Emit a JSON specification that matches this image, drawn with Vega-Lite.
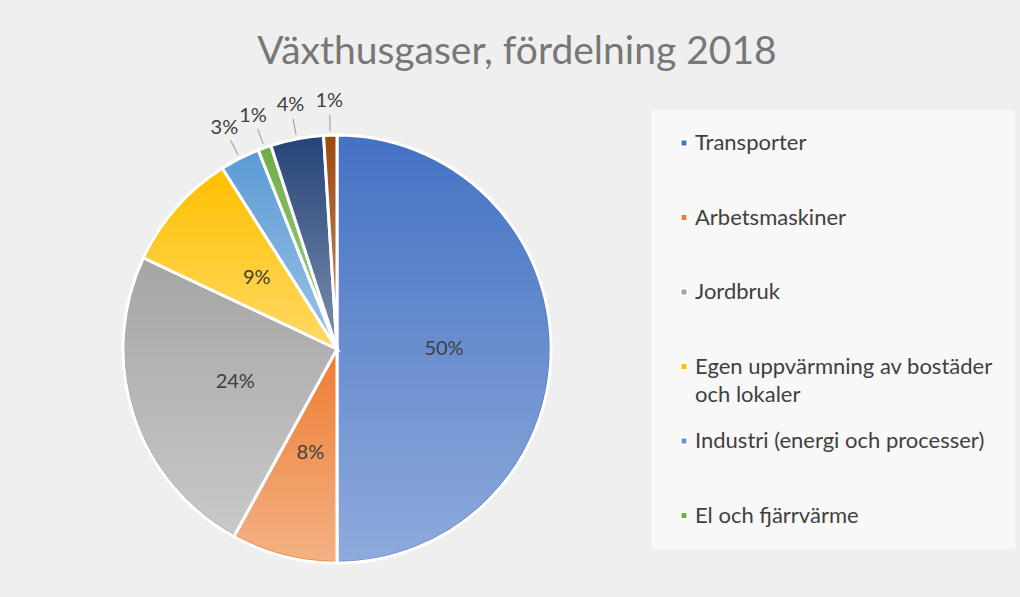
{
  "$schema": "https://vega.github.io/schema/vega-lite/v6.json",
  "width": 430,
  "height": 430,
  "autosize": {"type": "none"},
  "padding": {"left": 122, "top": 134, "right": 468, "bottom": 33},
  "background": "#efefef",
  "config": {"style": {"guide-label": {"lineHeight": 28}}},
  "title": {
    "text": "Växthusgaser, fördelning 2018",
    "fontSize": 39,
    "font": "Lato",
    "fontWeight": "normal",
    "color": "#777777",
    "anchor": "middle",
    "frame": "group",
    "dx": 180,
    "offset": 19
  },
  "data": {
    "values": [
      {"sektor": "Transporter", "andel": 0.50, "nr": 1},
      {"sektor": "Arbetsmaskiner", "andel": 0.08, "nr": 2},
      {"sektor": "Jordbruk", "andel": 0.24, "nr": 3},
      {"sektor": "Egen uppvärmning av bostäder och lokaler", "andel": 0.09, "nr": 4},
      {"sektor": "Industri (energi och processer)", "andel": 0.03, "nr": 5},
      {"sektor": "El och fjärrvärme", "andel": 0.01, "nr": 6},
      {"sektor": "Produktanvändning (inkl. lösningsmedel)", "andel": 0.04, "nr": 7},
      {"sektor": "Avfall (inkl. deponier)", "andel": 0.01, "nr": 8}
    ]
  },
  "encoding": {
    "theta": {"field": "andel", "type": "quantitative", "stack": true},
    "order": {"field": "nr", "type": "quantitative", "sort": "ascending"},
    "detail": {"field": "sektor", "type": "nominal"}
  },
  "layer": [
    {
      "mark": {"type": "arc", "outerRadius": 214, "stroke": "#ffffff", "strokeWidth": 3},
      "encoding": {
        "color": {
          "field": "sektor",
          "type": "nominal",
          "sort": null,
          "scale": {
            "domain": ["Transporter", "Arbetsmaskiner", "Jordbruk", "Egen uppvärmning av bostäder och lokaler", "Industri (energi och processer)", "El och fjärrvärme", "Produktanvändning (inkl. lösningsmedel)", "Avfall (inkl. deponier)"],
            "range": ["#4472c4", "#ed7d31", "#a5a5a5", "#ffc000", "#5b9bd5", "#70ad47", "#264478", "#9e480e"]
          },
          "legend": {
            "orient": "none",
            "legendX": 529,
            "legendY": -24,
            "title": null,
            "values": ["Transporter", "Arbetsmaskiner", "Jordbruk", "Egen uppvärmning av bostäder och lokaler", "Industri (energi och processer)", "El och fjärrvärme"],
            "symbolType": "square",
            "symbolSize": 40,
            "labelFont": "Lato",
            "labelFontSize": 22,
            "labelColor": "#404040",
            "labelLimit": 400,
            "labelOffset": 0,
            "labelBaseline": "middle",
            "gridAlign": "all",
            "rowPadding": 24.5,
            "padding": 22,
            "fillColor": "rgba(255,255,255,0.55)",
            "labelExpr": "datum.label == 'Egen uppvärmning av bostäder och lokaler' ? ['Egen uppvärmning av bostäder', 'och lokaler'] : datum.label",
            "encode": {"labels": {"update": {"lineHeight": {"value": 28}}}}
          }
        }
      }
    },
    {
      "mark": {
        "type": "arc",
        "outerRadius": 212,
        "fill": {
          "gradient": "linear",
          "x1": 0, "y1": 0, "x2": 0, "y2": 1,
          "stops": [
            {"offset": 0, "color": "rgba(255,255,255,0)"},
            {"offset": 1, "color": "rgba(255,255,255,0.4)"}
          ]
        }
      }
    },
    {
      "mark": {"type": "arc", "innerRadius": 218, "outerRadius": 234, "padAngle": 1, "fill": null, "stroke": "#a6a6a6", "strokeWidth": 1.2},
      "encoding": {
        "strokeOpacity": {"condition": {"test": "datum.andel < 0.05", "value": 1}, "value": 0}
      }
    },
    {
      "mark": {"type": "text", "radius": 107, "font": "Lato", "fontSize": 20, "fill": "#404040"},
      "encoding": {
        "text": {
          "condition": {"test": "datum.andel >= 0.05", "field": "andel", "type": "quantitative", "format": ".0%"},
          "value": ""
        }
      }
    },
    {
      "mark": {"type": "text", "radius": 248, "font": "Lato", "fontSize": 20, "fill": "#404040"},
      "encoding": {
        "text": {
          "condition": {"test": "datum.andel < 0.05", "field": "andel", "type": "quantitative", "format": ".0%"},
          "value": ""
        }
      }
    }
  ]
}
